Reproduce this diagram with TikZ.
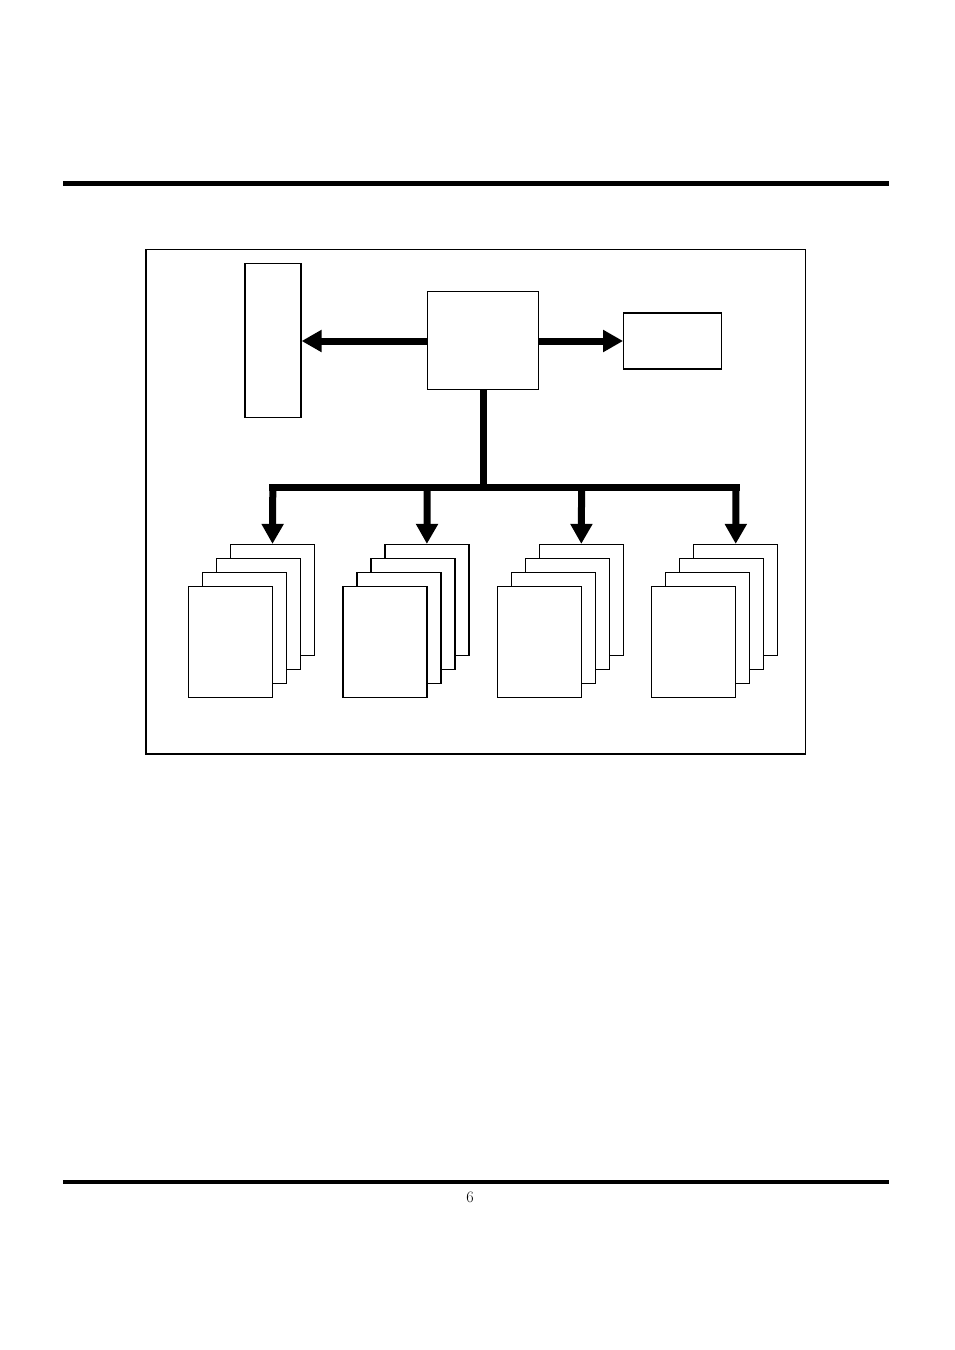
\documentclass[tikz,border=0pt]{standalone}
\usetikzlibrary{arrows.meta}

\tikzset{
  unit/.style={draw, line width=1.2pt, fill=white, inner sep=0pt},
  sheet/.style={unit, minimum width=84pt, minimum height=111pt},
  bus/.style={line width=7pt},
  busarrow/.style={bus, -{Triangle[length=20pt,width=21pt]}}
}

\begin{document}
\begin{tikzpicture}[x=1pt, y=-1pt]
  \useasboundingbox (0,0) rectangle (954,1350);

  % Page rules
  \draw[line width=5pt] (63,183.5) -- (889,183.5);
  \draw[line width=4pt] (63,1182) -- (889,1182);
  \node (pagenum) at (470,1197) {\fontsize{16}{18}\selectfont 6};

  % Outer frame
  \draw[line width=1.3pt] (146,249.5) rectangle (805.5,754);

  % Top units
  \node[unit, minimum width=56pt, minimum height=154pt] (left) at (273,340.8) {};
  \node[unit, minimum width=111pt, minimum height=98pt] (center) at (483.3,340.7) {};
  \node[unit, minimum width=98pt, minimum height=56pt] (right) at (672.7,341) {};

  \draw[busarrow] (center.west |- 0,341) -- (left.east |- 0,341);
  \draw[busarrow] (center.east |- 0,341) -- (right.west |- 0,341);

  % Stacks of sheets
  \foreach \i in {0,...,3} {
    \foreach \j in {3,2,1,0} {
      \node[sheet] (sheet-\i-\j) at ({230.5+154.4*\i+14*\j}, {642-14*\j}) {};
    }
    \coordinate (bus-\i) at ({272.8+154.4*\i},487.3);
  }

  % Bus
  \coordinate (trunk) at (center.south |- bus-0);
  \draw[bus] (center.south) -- (trunk);
  \draw[bus, line cap=rect] (bus-0) -- (bus-3);
  \foreach \i in {0,...,3}
    \draw[busarrow] (bus-\i) -- (sheet-\i-3.north);
\end{tikzpicture}
\end{document}
